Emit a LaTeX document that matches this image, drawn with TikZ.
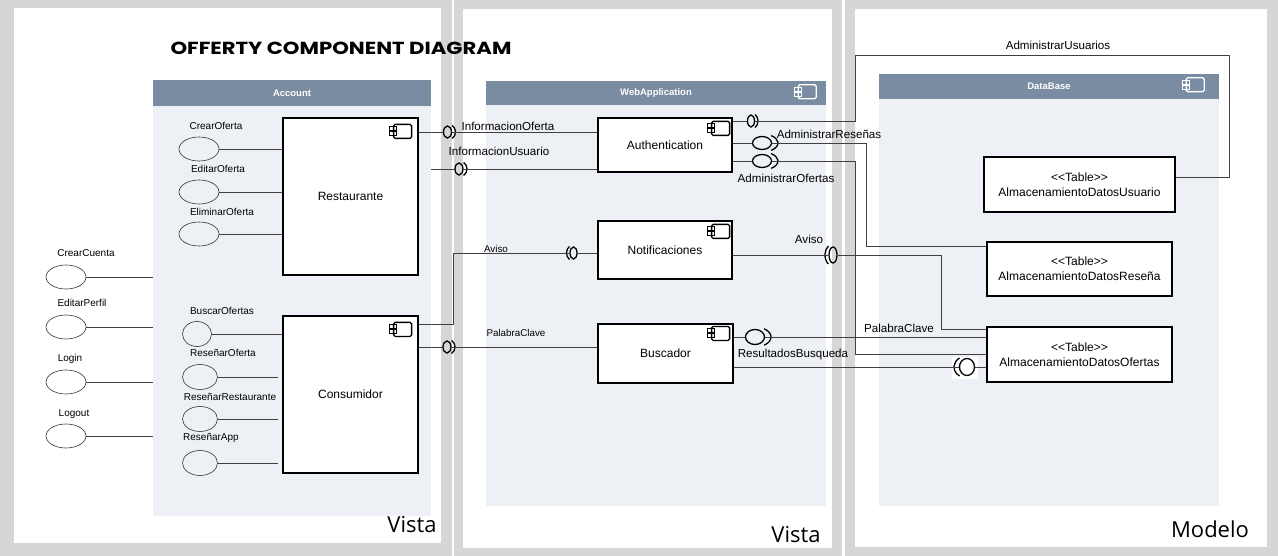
\documentclass[tikz,border=0pt]{standalone}
\usepackage{fontspec}
\usepackage{graphicx}
\setmainfont{Liberation Sans}
\newfontfamily\titlefont{Poppins}
\newfontfamily\zonefont{Open Sans}
\usetikzlibrary{calc,shapes.geometric}

\definecolor{framegray}{HTML}{D6D6D6}
\definecolor{pkghead}{HTML}{7A8CA2}
\definecolor{pkgbody}{HTML}{EDF0F5}
\definecolor{wirecol}{HTML}{404040}

\newcommand{\fsz}[1]{\fontsize{#1}{#1}\selectfont}
\newcommand{\sockR}[3]{\draw[line width=1.3pt] ($(#1.center)+(55:#2 and #3)$) arc[start angle=55,end angle=-55,x radius=#2,y radius=#3];}
\newcommand{\sockL}[3]{\draw[line width=1.3pt] ($(#1.center)+(125:#2 and #3)$) arc[start angle=125,end angle=235,x radius=#2,y radius=#3];}

\tikzset{
  pics/compicon/.style={code={
    \draw[#1,line width=1.3pt,rounded corners=1.5pt] (5,0) rectangle (23,14);
    \draw[#1,line width=1pt] (1,2.5) rectangle (8,6.5) (1,7.5) rectangle (8,11.5);
  }},
  pkgbox/.style={fill=pkgbody,inner sep=0pt},
  pkgtitle/.style={fill=pkghead,inner sep=0pt,text=white,font=\fsz{9.5}\bfseries},
  comp/.style={draw=black,line width=1.2pt,fill=white,inner sep=0pt,font=\fsz{12}},
  tablebox/.style={comp,align=center,font=\fsz{12}},
  usecase/.style={draw=black!80,ellipse,line width=0.6pt,inner sep=0pt,minimum width=40pt,minimum height=24pt},
  ucname/.style={font=\fsz{10},inner sep=0pt},
  lbl/.style={font=\fsz{11.6},inner sep=0pt},
  smalllbl/.style={font=\fsz{9.8},inner sep=0pt},
  zone/.style={font=\zonefont\fsz{22},inner sep=0pt},
  ball/.style={draw=black,ellipse,line width=1.3pt,inner sep=0pt},
  wire/.style={draw=wirecol,line width=0.8pt},
}

\begin{document}
\begin{tikzpicture}[x=1pt,y=-1pt]
      \useasboundingbox (0,0) rectangle (1278,556);
      \fill[framegray] (0,0) rectangle (1278,556);
      \fill[white] (14,8) rectangle (441,543);
      \fill[white] (451.5,0) rectangle (454,556);
      \fill[white] (463,9) rectangle (832,548);
      \fill[white] (842,0) rectangle (844.5,556);
      \fill[white] (855,9) rectangle (1267,547);

      \node[font=\titlefont\bfseries\fsz{17.5}] (title) at (341,48) {\scalebox{1.21}[1]{OFFERTY COMPONENT DIAGRAM}};

      \node[pkgbox,minimum width=278pt,minimum height=436pt] (acc) at (292,298) {};
      \node[pkgtitle,minimum width=278pt,minimum height=26pt,anchor=north] (accT) at (acc.north) {Account};
      \node[pkgbox,minimum width=340pt,minimum height=425pt] (web) at (656,293.5) {};
      \node[pkgtitle,minimum width=340pt,minimum height=24pt,anchor=north] (webT) at (web.north) {WebApplication};
      \pic at ($(webT.north east)+(-33,4)$) {compicon=white};
      \node[pkgbox,minimum width=340pt,minimum height=432pt] (db) at (1049,290) {};
      \node[pkgtitle,minimum width=340pt,minimum height=25pt,anchor=north] (dbT) at (db.north) {DataBase};
      \pic at ($(dbT.north east)+(-38,4)$) {compicon=white};

      \node[comp,minimum width=135pt,minimum height=157pt] (rest) at (350.5,196.5) {Restaurante};
      \pic at ($(rest.north east)+(-30,7)$) {compicon=black};
      \node[comp,minimum width=135pt,minimum height=157pt] (cons) at (350.5,394.5) {Consumidor};
      \pic at ($(cons.north east)+(-30,7)$) {compicon=black};
      \node[comp,minimum width=134pt,minimum height=54pt] (auth) at (665,145) {Authentication};
      \pic at ($(auth.north east)+(-26,4)$) {compicon=black};
      \node[comp,minimum width=134pt,minimum height=58pt] (notif) at (665,250) {Notificaciones};
      \pic at ($(notif.north east)+(-26,4)$) {compicon=black};
      \node[comp,minimum width=135pt,minimum height=59pt] (busc) at (665.5,353.5) {Buscador};
      \pic at ($(busc.north east)+(-27,3)$) {compicon=black};

      \node[tablebox,minimum width=191pt,minimum height=55pt] (tU) at (1079.5,184.5) {<{}<Table>{}>\\[3pt]AlmacenamientoDatosUsuario};
      \node[tablebox,minimum width=185pt,minimum height=54pt] (tR) at (1079.5,269) {<{}<Table>{}>\\[3pt]AlmacenamientoDatosReseña};
      \node[tablebox,minimum width=185pt,minimum height=55pt] (tO) at (1079.5,354.5) {<{}<Table>{}>\\[3pt]AlmacenamientoDatosOfertas};

      \node[usecase] (ucCrearOferta) at (199,149) {};
      \node[usecase] (ucEditarOferta) at (199,192) {};
      \node[usecase] (ucEliminarOferta) at (199,234) {};
      \node[usecase,minimum width=29pt,minimum height=25pt] (ucBuscar) at (197,334) {};
      \node[usecase,minimum width=35pt,minimum height=25pt] (ucResOferta) at (200,377) {};
      \node[usecase,minimum width=35pt,minimum height=25pt] (ucResRest) at (200,419) {};
      \node[usecase,minimum width=35pt,minimum height=25pt] (ucResApp) at (200,463) {};
      \node[usecase] (ucCrearCuenta) at (66,277) {};
      \node[usecase] (ucEditarPerfil) at (66,327) {};
      \node[usecase] (ucLogin) at (66,382) {};
      \node[usecase] (ucLogout) at (66,436) {};

      \node[ucname] (nCrearOferta) at (216,126) {CrearOferta};
      \node[ucname] (nEditarOferta) at (218,169) {EditarOferta};
      \node[ucname] (nEliminarOferta) at (222,212) {EliminarOferta};
      \node[ucname] (nBuscar) at (222,311) {BuscarOfertas};
      \node[ucname] (nResOferta) at (223,353) {ReseñarOferta};
      \node[ucname] (nResRest) at (230,397) {ReseñarRestaurante};
      \node[ucname] (nResApp) at (211,438) {ReseñarApp};
      \node[ucname] (nCrearCuenta) at (86,253) {CrearCuenta};
      \node[ucname] (nEditarPerfil) at (82,303) {EditarPerfil};
      \node[ucname] (nLogin) at (70,359) {Login};
      \node[ucname] (nLogout) at (74,414) {Logout};

      \draw[wire] (ucCrearOferta.east) -- (ucCrearOferta -| rest.west);
      \draw[wire] (ucEditarOferta.east) -- (ucEditarOferta -| rest.west);
      \draw[wire] (ucEliminarOferta.east) -- (ucEliminarOferta -| rest.west);
      \draw[wire] (ucBuscar.east) -- (ucBuscar -| cons.west);
      \draw[wire] (ucResOferta.east) -- ($(ucResOferta -| cons.west)+(-4,0)$);
      \draw[wire] (ucResRest.east) -- ($(ucResRest -| cons.west)+(-4,0)$);
      \draw[wire] (ucResApp.east) -- ($(ucResApp -| cons.west)+(-4,0)$);
      \draw[wire] (ucCrearCuenta.east) -- (ucCrearCuenta -| acc.west);
      \draw[wire] (ucEditarPerfil.east) -- (ucEditarPerfil -| acc.west);
      \draw[wire] (ucLogin.east) -- (ucLogin -| acc.west);
      \draw[wire] (ucLogout.east) -- (ucLogout -| acc.west);

      \fill[white] (952,357) rectangle (978,379);
      \node[ball,minimum width=8pt,minimum height=12pt] (bIO) at (447.5,132) {};
      \node[ball,minimum width=8pt,minimum height=12pt] (bIU) at (459,169) {};
      \node[ball,minimum width=8pt,minimum height=12pt] (bPC) at (447,347) {};
      \node[ball,minimum width=7pt,minimum height=12pt] (sAv) at (573.5,253) {};
      \node[ball,minimum width=7pt,minimum height=12pt] (bAU) at (751,121) {};
      \node[ball,minimum width=19pt,minimum height=13pt] (bAR) at (762,143) {};
      \node[ball,minimum width=19pt,minimum height=13pt] (bAO) at (762,161) {};
      \node[ball,minimum width=8pt,minimum height=16pt] (sAv2) at (833,255) {};
      \node[ball,minimum width=19pt,minimum height=15pt] (bPC2) at (755,337) {};
      \node[ball,minimum width=15pt,minimum height=17pt] (sRB) at (967,367) {};
      \sockR{bIO}{8}{8}
      \sockR{bIU}{8}{8}
      \sockR{bPC}{8}{8}
      \sockL{sAv}{7}{8}
      \sockR{bAU}{7}{8}
      \sockR{bAR}{16}{9}
      \sockR{bAO}{16}{9}
      \sockL{sAv2}{8}{11}
      \sockR{bPC2}{16}{10}
      \sockL{sRB}{13}{11}

      \draw[wire] (rest.east |- bIO) -- (bIO.west) (bIO.east) -- (bIO -| auth.west);
      \draw[wire] (acc.east |- bIU) -- (bIU.west) (bIU.east) -- (bIU -| auth.west);
      \draw[wire] (cons.east |- bPC) -- (bPC.west) (bPC.east) -- (bPC -| busc.west);
      \draw[wire] ($(cons.north east)+(0,9)$) -- ++(35,0) |- (sAv.west) (sAv.east) -- (sAv -| notif.west);
      \draw[wire] (auth.east |- bAU) -- (bAU.west) (bAU.east) -| (855,55) -| (1229,177) -- (tU.east |- 0,177);
      \draw[wire] (auth.east |- bAR) -- (bAR.west) (bAR.east) -| (866,246) -- (tR.west |- 0,246);
      \draw[wire] (auth.east |- bAO) -- (bAO.west) (bAO.east) -| (855,354) -- (tO.west |- 0,354);
      \draw[wire] (notif.east |- sAv2) -- (sAv2.west) (sAv2.east) -| (941,329) -- (tO.west |- 0,329);
      \draw[wire] (busc.east |- bPC2) -- (bPC2.west) (bPC2.east) -- (bPC2 -| tO.west);
      \draw[wire] (busc.east |- sRB) -- (sRB.west) (sRB.east) -- (sRB -| tO.west);

      \node[lbl] (lInfoOferta) at (508,126) {InformacionOferta};
      \node[lbl] (lInfoUsuario) at (499,151) {InformacionUsuario};
      \node[smalllbl] (lAvisoL) at (496,249) {Aviso};
      \node[smalllbl] (lPalabraL) at (516,333) {PalabraClave};
      \node[lbl] (lAdmUsuarios) at (1058,45) {AdministrarUsuarios};
      \node[lbl] (lAdmResenas) at (829,134) {AdministrarReseñas};
      \node[lbl] (lAdmOfertas) at (786,178) {AdministrarOfertas};
      \node[lbl] (lAvisoR) at (809,239) {Aviso};
      \node[lbl] (lPalabraR) at (899,328) {PalabraClave};
      \node[lbl] (lResultados) at (793,355) {ResultadosBusqueda};

      \node[zone] (vista1) at (412,525) {Vista};
      \node[zone] (vista2) at (796,535) {Vista};
      \node[zone] (modelo) at (1210,529) {Modelo};
\end{tikzpicture}
\end{document}
